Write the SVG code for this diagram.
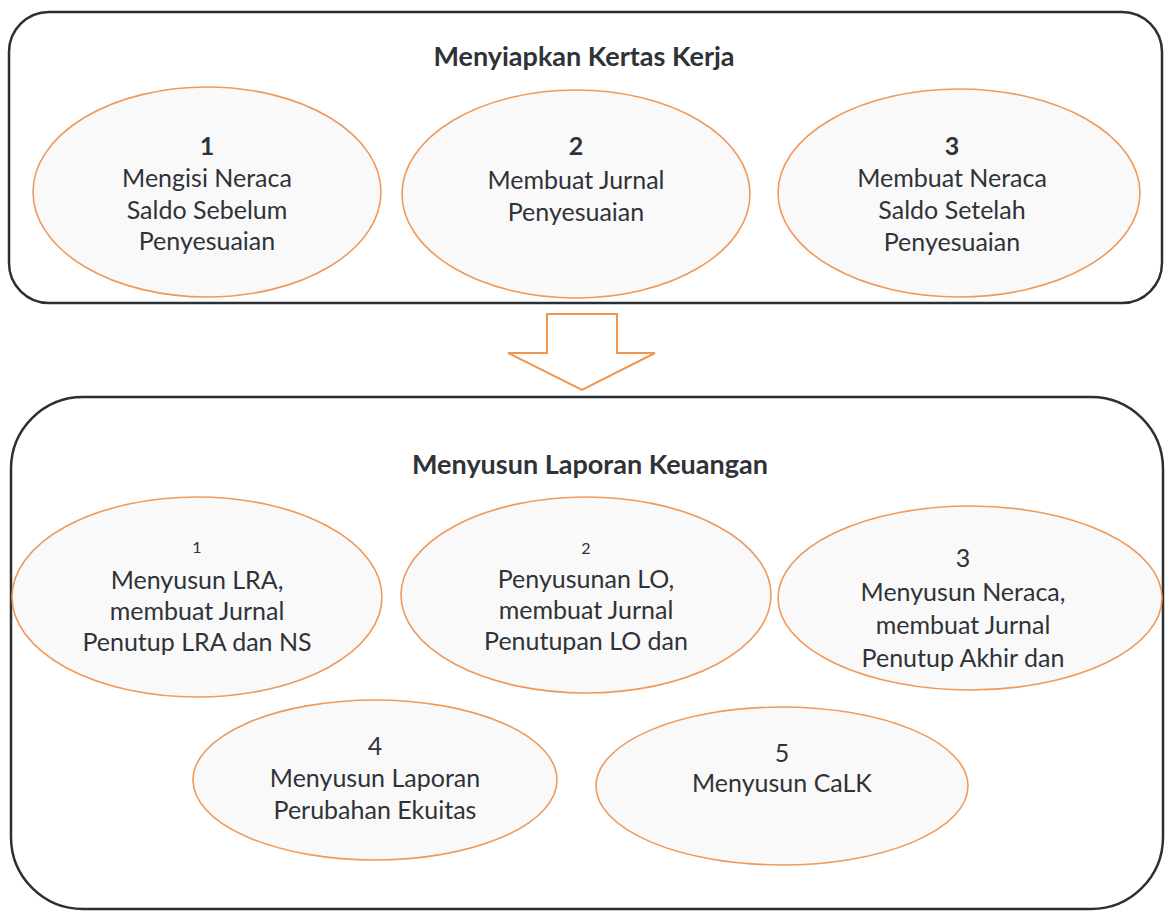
<svg xmlns="http://www.w3.org/2000/svg" width="1165" height="912" viewBox="0 0 1165 912">
<style>
.box{fill:none;stroke:#2b2f36;stroke-width:2.5}
.ell{fill:#f9f9f9;stroke:#ef9a5a;stroke-width:1.6}
.t{font-family:Lato,"Open Sans",sans-serif;font-size:25px;fill:#2f3338;text-anchor:middle}
.b{font-weight:bold}
.h{font-family:Lato,"Open Sans",sans-serif;font-size:27px;font-weight:bold;fill:#2f3338;text-anchor:middle}
.s{font-size:16px}
</style>
<rect width="1165" height="912" fill="#ffffff"/>
<g id="box-top">
<rect class="box" x="9" y="12" width="1153" height="291" rx="40"/>
<text class="h" x="584" y="66">Menyiapkan Kertas Kerja</text>
</g>
<g id="box-bottom">
<rect class="box" x="11" y="397" width="1152" height="512" rx="72"/>
<text class="h" x="590" y="474">Menyusun Laporan Keuangan</text>
</g>
<g id="connectors">
<polygon points="547,314 617,314 617,353 655,353 582,390 508,353 547,353" fill="#ffffff" stroke="#f0964f" stroke-width="2"/>
</g>
<g id="n1">
<ellipse class="ell" cx="207" cy="192" rx="174" ry="105"/>
<text class="t b" x="207" y="155">1</text>
<text class="t" x="207" y="187">Mengisi Neraca</text>
<text class="t" x="207" y="219">Saldo Sebelum</text>
<text class="t" x="207" y="250">Penyesuaian</text>
</g>
<g id="n2">
<ellipse class="ell" cx="576" cy="194" rx="174" ry="104"/>
<text class="t b" x="576" y="155">2</text>
<text class="t" x="576" y="189">Membuat Jurnal</text>
<text class="t" x="576" y="221">Penyesuaian</text>
</g>
<g id="n3">
<ellipse class="ell" cx="959" cy="193" rx="181" ry="104"/>
<text class="t b" x="952" y="155">3</text>
<text class="t" x="952" y="187">Membuat Neraca</text>
<text class="t" x="952" y="219">Saldo Setelah</text>
<text class="t" x="952" y="251">Penyesuaian</text>
</g>
<g id="m1">
<ellipse class="ell" cx="197" cy="597" rx="185" ry="100"/>
<text class="t s" x="197" y="553">1</text>
<text class="t" x="197" y="589">Menyusun LRA,</text>
<text class="t" x="197" y="620">membuat Jurnal</text>
<text class="t" x="197" y="651">Penutup LRA dan NS</text>
</g>
<g id="m2">
<ellipse class="ell" cx="586" cy="595" rx="185" ry="98"/>
<text class="t s" x="586" y="554">2</text>
<text class="t" x="586" y="588">Penyusunan LO,</text>
<text class="t" x="586" y="619">membuat Jurnal</text>
<text class="t" x="586" y="650">Penutupan LO dan</text>
</g>
<g id="m3">
<ellipse class="ell" cx="970" cy="598" rx="192" ry="92"/>
<text class="t" x="963" y="567">3</text>
<text class="t" x="963" y="601">Menyusun Neraca,</text>
<text class="t" x="963" y="634">membuat Jurnal</text>
<text class="t" x="963" y="667">Penutup Akhir dan</text>
</g>
<g id="m4">
<ellipse class="ell" cx="375" cy="780" rx="182" ry="80"/>
<text class="t" x="375" y="755">4</text>
<text class="t" x="375" y="787">Menyusun Laporan</text>
<text class="t" x="375" y="819">Perubahan Ekuitas</text>
</g>
<g id="m5">
<ellipse class="ell" cx="782" cy="786" rx="186" ry="79"/>
<text class="t" x="782" y="762">5</text>
<text class="t" x="782" y="792">Menyusun CaLK</text>
</g>
</svg>
